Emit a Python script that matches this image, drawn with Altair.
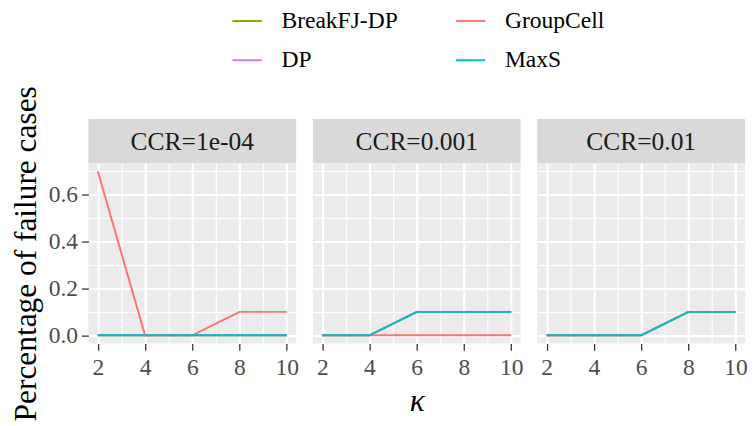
import altair as alt
import pandas as pd

kappa = [2, 4, 6, 8, 10]
series_names = ["BreakFJ-DP", "DP", "GroupCell", "MaxS"]
ccr_labels = ["CCR=1e-04", "CCR=0.001", "CCR=0.01"]

# CCR=1e-04
breakfj_1 = [0.0, 0.0, 0.0, 0.0, 0.0]
dp_1 = [0.0, 0.0, 0.0, 0.0, 0.0]
groupcell_1 = [0.7, 0.0, 0.0, 0.1, 0.1]
maxs_1 = [0.0, 0.0, 0.0, 0.0, 0.0]
# CCR=0.001
breakfj_2 = [0.0, 0.0, 0.1, 0.1, 0.1]
dp_2 = [0.0, 0.0, 0.1, 0.1, 0.1]
groupcell_2 = [0.0, 0.0, 0.0, 0.0, 0.0]
maxs_2 = [0.0, 0.0, 0.1, 0.1, 0.1]
# CCR=0.01
breakfj_3 = [0.0, 0.0, 0.0, 0.1, 0.1]
dp_3 = [0.0, 0.0, 0.0, 0.1, 0.1]
groupcell_3 = [0.0, 0.0, 0.0, 0.1, 0.1]
maxs_3 = [0.0, 0.0, 0.0, 0.1, 0.1]

series_colors = ["#7CAE00", "#C77CFF", "#F8766D", "#00BFC4"]

x_grid = [2, 3, 4, 5, 6, 7, 8, 9, 10]
y_grid = [0.0, 0.1, 0.2, 0.3, 0.4, 0.5, 0.6, 0.7]

panel_values = [
    [breakfj_1, dp_1, groupcell_1, maxs_1],
    [breakfj_2, dp_2, groupcell_2, maxs_2],
    [breakfj_3, dp_3, groupcell_3, maxs_3],
]

rows = []
for label, vals in zip(ccr_labels, panel_values):
    for s, ys in zip(series_names, vals):
        for k, v in zip(kappa, ys):
            rows.append({"ccr": label, "series": s, "kappa": k, "value": v})
df = pd.DataFrame(rows)

FONT = "Liberation Serif, DejaVu Serif, serif"
W, H, SH = 212, 184, 45

x_minor = "datum.value % 2 == 1"
y_minor = "round(datum.value * 10) % 2 == 1"

legend = alt.Legend(
    title=None, orient="none", legendX=146, legendY=-116, columns=2,
    symbolType="stroke", symbolSize=900, symbolStrokeWidth=2,
    labelFont=FONT, labelFontSize=24, labelColor="#000000",
    labelOffset=19, rowPadding=12, columnPadding=55,
)


def make_panel(idx, label):
    d = df[df.ccr == label]
    x_axis = alt.Axis(
        values=x_grid,
        labelExpr=x_minor + " ? '' : format(datum.value, 'd')",
        grid=True, gridColor="white",
        gridWidth={"condition": {"test": x_minor, "value": 1.1}, "value": 2.2},
        tickOpacity={"condition": {"test": x_minor, "value": 0}, "value": 1},
        tickColor="#333333", tickSize=7, tickWidth=1.3,
        labelFont=FONT, labelFontSize=24, labelColor="#4D4D4D", labelPadding=6,
        domain=False,
        title="κ" if idx == 1 else None,
        titleFont=FONT, titleFontSize=32, titleFontStyle="italic",
        titleFontWeight="normal", titleColor="#000000", titlePadding=6,
    )
    if idx == 0:
        y_axis = alt.Axis(
            values=y_grid,
            labelExpr=y_minor + " ? '' : format(datum.value, '.1f')",
            grid=True, gridColor="white",
            gridWidth={"condition": {"test": y_minor, "value": 1.1}, "value": 2.2},
            tickOpacity={"condition": {"test": y_minor, "value": 0}, "value": 1},
            tickColor="#333333", tickSize=7, tickWidth=1.3,
            labelFont=FONT, labelFontSize=24, labelColor="#4D4D4D", labelPadding=4,
            domain=False,
            title="Percentage of failure cases",
            titleFont=FONT, titleFontSize=32, titleFontWeight="normal",
            titleColor="#000000", titlePadding=6,
        )
    else:
        y_axis = alt.Axis(
            values=y_grid, labels=False, ticks=False, domain=False, title=None,
            grid=True, gridColor="white",
            gridWidth={"condition": {"test": y_minor, "value": 1.1}, "value": 2.2},
        )
    base = alt.Chart(d).mark_line(strokeWidth=2).encode(
        x=alt.X("kappa:Q", scale=alt.Scale(domain=[1.6, 10.4], nice=False, zero=False), axis=x_axis),
        y=alt.Y("value:Q", scale=alt.Scale(domain=[-0.035, 0.735], nice=False, zero=False), axis=y_axis),
        color=alt.Color("series:N", scale=alt.Scale(domain=series_names, range=series_colors), legend=legend),
    )
    layers = [base.transform_filter(alt.datum.series == s) for s in series_names]
    plot = alt.layer(*layers).properties(width=W, height=H)
    strip = alt.Chart(pd.DataFrame({"ccr": [label]})).mark_text(
        font=FONT, fontSize=26, color="#1A1A1A", baseline="middle", align="center"
    ).encode(
        text="ccr:N", x=alt.value(W / 2), y=alt.value(SH / 2 + 1)
    ).properties(width=W, height=SH, view=alt.ViewBackground(fill="#D9D9D9", stroke=None))
    return alt.vconcat(strip, plot, spacing=0, bounds="flush")


panels = [make_panel(i, lab) for i, lab in enumerate(ccr_labels)]
chart = alt.hconcat(*panels, spacing=14).resolve_scale(color="shared").properties(
    padding={"left": 2, "top": -7, "right": 0, "bottom": 5}
).configure(font=FONT, background="white").configure_view(fill="#EBEBEB", stroke=None)

chart.save("out.html", embed_options={"renderer": "svg", "actions": False})
